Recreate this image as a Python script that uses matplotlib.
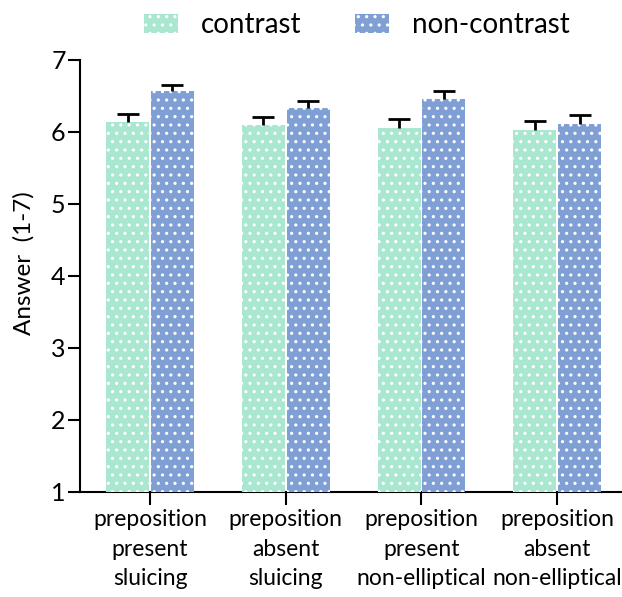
import matplotlib
matplotlib.use("Agg")
import matplotlib.pyplot as plt
import numpy as np

plt.rcParams['font.family'] = ['Lato', 'DejaVu Sans']
plt.rcParams['hatch.color'] = 'white'
plt.rcParams['hatch.linewidth'] = 1.1

categories = ["preposition\npresent\nsluicing", "preposition\nabsent\nsluicing",
              "preposition\npresent\nnon-elliptical", "preposition\nabsent\nnon-elliptical"]
series_names = ["contrast", "non-contrast"]
contrast = [6.14, 6.10, 6.05, 6.03]
contrast_err = [0.10, 0.11, 0.12, 0.12]
noncontrast = [6.56, 6.33, 6.46, 6.11]
noncontrast_err = [0.09, 0.10, 0.10, 0.12]
yticks = [1, 2, 3, 4, 5, 6, 7]

colors = ["#aae7d1", "#7f9fd5"]

fig = plt.figure(figsize=(6.22, 5.97), dpi=100)
ax = fig.add_axes([0.129, 0.176, 0.871, 0.724])

x = np.arange(len(categories))
w = 0.316
off = 0.165
b1 = ax.bar(x - off, np.array(contrast) - 1, w, bottom=1, color=colors[0], hatch='..',
            edgecolor='white', linewidth=0, label=series_names[0], zorder=3)
b2 = ax.bar(x + off, np.array(noncontrast) - 1, w, bottom=1, color=colors[1], hatch='..',
            edgecolor='white', linewidth=0, label=series_names[1], zorder=3)
for xs, vals, errs in [(x - off, contrast, contrast_err), (x + off, noncontrast, noncontrast_err)]:
    eb = ax.errorbar(xs, vals, yerr=[np.zeros(len(vals)), errs], fmt='none',
                     ecolor='black', elinewidth=2.0, capsize=8, capthick=2.0, zorder=4)
    caps = eb[1]
    if len(caps) >= 2:
        caps[0].set_visible(False)

ax.set_ylim(1, 7)
ax.set_xlim(-0.515, 3.478)
ax.set_yticks(yticks)
ax.set_xticks(x)
ax.set_xticklabels(categories, fontsize=16.5, linespacing=1.5)
ax.tick_params(axis='y', labelsize=18, length=8.5, width=1.5, direction='out', pad=2)
ax.tick_params(axis='x', length=9.5, width=1.5, direction='out', pad=3)
for s in ['top', 'right']:
    ax.spines[s].set_visible(False)
for s in ['left', 'bottom']:
    ax.spines[s].set_linewidth(1.5)
ax.set_ylabel("Answer  (1-7)", fontsize=17.5)
ax.yaxis.set_label_coords(-0.085, 0.53)

leg = fig.legend(handles=[b1, b2], labels=series_names, loc='center',
                 bbox_to_anchor=(0.574, 0.958), ncol=2, frameon=False, fontsize=20,
                 handlelength=1.22, handleheight=0.68, columnspacing=1.94, handletextpad=0.83)

fig.savefig("out.png", dpi=100)
